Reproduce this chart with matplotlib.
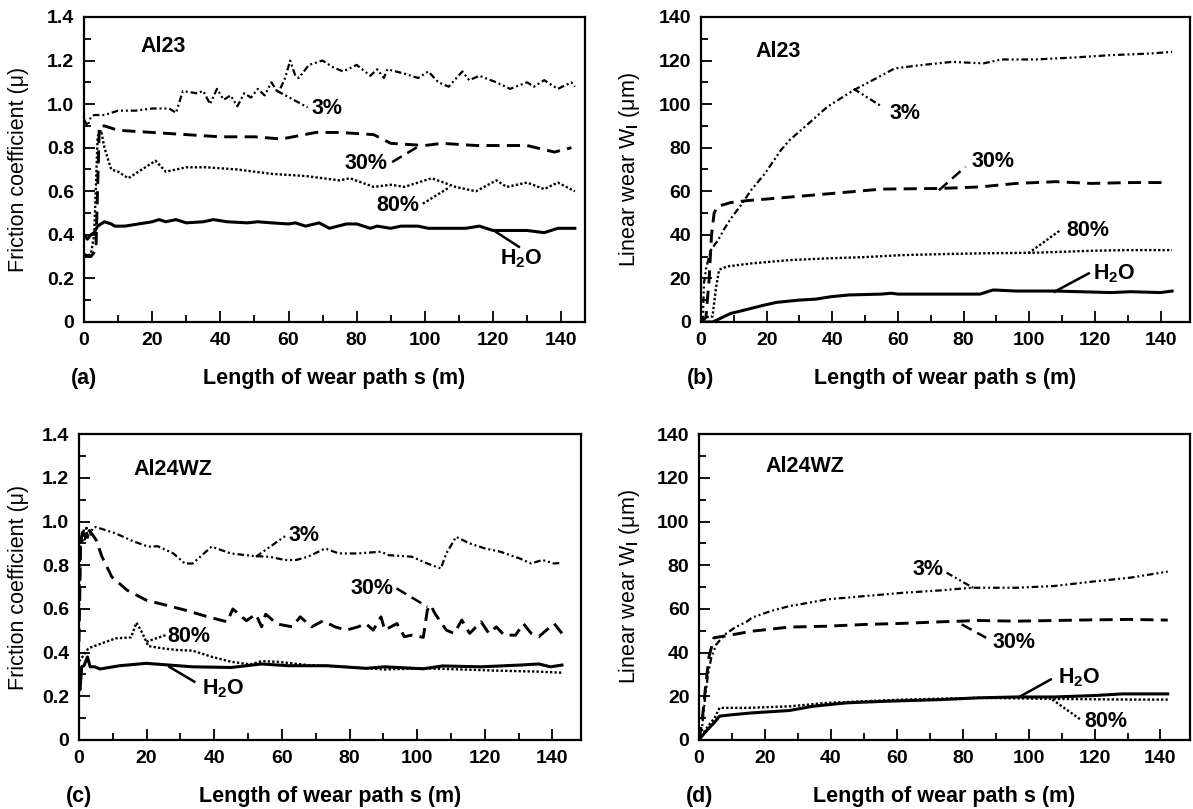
import matplotlib
matplotlib.use("Agg")
import matplotlib.pyplot as plt
from matplotlib.ticker import MultipleLocator

plt.rcParams['font.family'] = ['Liberation Sans', 'DejaVu Sans']
plt.rcParams['font.weight'] = 'bold'
plt.rcParams['mathtext.fontset'] = 'custom'
plt.rcParams['mathtext.rm'] = 'Liberation Sans:bold'
plt.rcParams['mathtext.it'] = 'Liberation Sans:bold:italic'
plt.rcParams['mathtext.bf'] = 'Liberation Sans:bold'

# ---------------- data: panel (a) Al23 friction ----------------
a_h2o_x = [0, 1, 2, 3, 4, 6, 8, 9, 12, 16, 20, 22, 24, 27, 30, 35, 38, 42, 48, 51, 55, 60, 62, 65, 69, 72, 77, 80,
           84, 86, 90, 93, 98, 101, 105, 112, 116, 120, 126, 130, 135, 139, 144]
a_h2o_y = [0.40, 0.38, 0.40, 0.41, 0.44, 0.46, 0.45, 0.44, 0.44, 0.45, 0.46, 0.47, 0.46, 0.47, 0.455, 0.46, 0.47,
           0.46, 0.455, 0.46, 0.455, 0.45, 0.455, 0.44, 0.455, 0.43, 0.45, 0.45, 0.43, 0.44, 0.43, 0.44, 0.44, 0.43,
           0.43, 0.43, 0.44, 0.42, 0.42, 0.42, 0.41, 0.43, 0.43]
a_3_x = [0, 1, 2, 3, 4, 6, 8, 10, 15, 20, 25, 27, 29, 33, 35, 37, 39, 41, 43, 45, 47, 49, 51, 53, 55, 57, 59, 60.5,
         62, 63, 66, 70, 73, 76, 80, 84, 86, 88, 89, 94, 98, 101, 104, 107, 111, 113, 116, 121, 125, 130, 132, 135,
         139, 143, 144]
a_3_y = [0.93, 0.90, 0.94, 0.95, 0.95, 0.95, 0.96, 0.97, 0.97, 0.98, 0.98, 0.96, 1.06, 1.05, 1.06, 1.00, 1.07, 1.02,
         1.04, 0.99, 1.05, 1.03, 1.07, 1.04, 1.10, 1.05, 1.12, 1.20, 1.13, 1.12, 1.18, 1.20, 1.17, 1.15, 1.18, 1.13,
         1.16, 1.12, 1.16, 1.14, 1.12, 1.15, 1.10, 1.08, 1.15, 1.11, 1.13, 1.10, 1.07, 1.10, 1.08, 1.11, 1.07, 1.10,
         1.08]
a_30_x = [0, 2, 3.5, 4.5, 6, 10, 20, 30, 40, 50, 58, 68, 75, 85, 90, 100, 105, 115, 125, 130, 138, 143]
a_30_y = [0.31, 0.30, 0.33, 0.90, 0.90, 0.88, 0.87, 0.86, 0.85, 0.85, 0.84, 0.87, 0.87, 0.86, 0.82, 0.81, 0.82,
          0.81, 0.81, 0.81, 0.78, 0.80]
a_80_x = [0, 2, 3, 4, 5, 6, 8, 10, 13, 17, 21, 24, 30, 36, 45, 55, 65, 75, 78, 85, 90, 94, 100, 102, 109, 115, 121,
          124, 130, 135, 139, 144]
a_80_y = [0.30, 0.31, 0.40, 0.85, 0.88, 0.80, 0.70, 0.69, 0.66, 0.70, 0.74, 0.69, 0.71, 0.71, 0.70, 0.68, 0.67,
          0.65, 0.66, 0.62, 0.63, 0.62, 0.65, 0.66, 0.62, 0.60, 0.65, 0.62, 0.64, 0.61, 0.64, 0.60]

# ---------------- data: panel (b) Al23 linear wear ----------------
b_3_x = [0, 0.6, 0.9, 1.6, 3, 5.2, 7.2, 9.2, 12.2, 15.3, 19.4, 24.4, 27, 32.7, 38.5, 46.5, 52.3, 59, 67, 76.5, 86,
         91.5, 102, 113.5, 125, 136.5, 143.5]
b_3_y = [0, 2.4, 17.8, 25, 33, 37.6, 43, 47.7, 53.7, 60.6, 68, 79, 83.5, 91, 98.8, 106.4, 111, 116.4, 117.9, 119.4,
         118.7, 120.5, 120.5, 121.4, 122.5, 123.2, 124]
b_30_x = [0, 1.5, 2.5, 3.2, 4, 5, 9, 14, 24.5, 40, 55, 73, 85, 96, 108, 119, 131, 141]
b_30_y = [0, 2, 20, 40, 50, 53, 54.8, 55.7, 57, 59, 61, 61.3, 62, 63.6, 64.4, 63.6, 64, 64]
b_80_x = [0, 0.3, 3.5, 4.5, 5.5, 8, 15.4, 27, 38.5, 50, 61.5, 75, 85, 102, 119, 130, 143.5]
b_80_y = [0, 2, 2.5, 15, 24, 25.5, 26.9, 28.4, 29.2, 29.8, 30.7, 31.2, 31.5, 31.8, 32.7, 33, 33]
b_h2o_x = [0, 3.5, 5, 7, 9.2, 12, 19.4, 23, 29.6, 35, 39.6, 45, 55, 58, 60, 85, 89, 96, 108, 125, 131, 140, 143.5]
b_h2o_y = [0, 0, 1, 2.5, 4, 5, 7.8, 9, 10, 10.5, 11.6, 12.4, 12.8, 13.2, 12.8, 12.8, 14.7, 14.2, 14.2, 13.5, 13.9,
           13.5, 14.2]

# ---------------- data: panel (c) Al24WZ friction ----------------
c_3_x = [0, 0.3, 0.6, 1, 1.4, 1.8, 2.2, 2.6, 3, 3.5, 4, 5, 10.8, 16, 20.5, 23.3, 27.9, 31.3, 33.6, 39.2, 44.9, 51.8,
         56.3, 60.9, 64.2, 67.7, 72.8, 76.8, 82.5, 89.3, 91.6, 98.4, 103, 107, 108.6, 111.5, 115.5, 120, 124.6, 130.3,
         133.7, 137, 140.5, 142.8]
c_3_y = [0.55, 0.85, 0.93, 0.90, 0.96, 0.91, 0.98, 0.92, 0.97, 0.94, 0.97, 0.975, 0.946, 0.91, 0.885, 0.887, 0.854,
         0.808, 0.808, 0.885, 0.854, 0.842, 0.839, 0.824, 0.824, 0.839, 0.877, 0.854, 0.854, 0.862, 0.846, 0.839,
         0.808, 0.785, 0.854, 0.93, 0.90, 0.877, 0.862, 0.831, 0.808, 0.824, 0.808, 0.811]
c_30_x = [0, 0.5, 1, 2, 3, 4, 5.1, 6.8, 9.7, 14.2, 19.9, 24.5, 31.3, 38.1, 43.8, 45.5, 49.5, 52.3, 54, 55.2, 58.6,
          63.1, 65.4, 68.8, 72.2, 75.7, 79.1, 82.5, 84.8, 87, 89.3, 90.4, 94, 96.2, 98.4, 101.8, 103, 104, 105.2,
          108.6, 110.9, 113.2, 115.5, 118.9, 121.2, 123.4, 125.7, 129.1, 131.4, 133.7, 136, 138.2, 140.5, 142.8]
c_30_y = [0.45, 0.90, 0.95, 0.93, 0.96, 0.94, 0.915, 0.839, 0.747, 0.686, 0.64, 0.622, 0.595, 0.564, 0.541, 0.60,
          0.546, 0.576, 0.518, 0.576, 0.531, 0.518, 0.564, 0.518, 0.546, 0.518, 0.503, 0.518, 0.533, 0.503, 0.564,
          0.503, 0.533, 0.473, 0.48, 0.47, 0.595, 0.618, 0.58, 0.503, 0.488, 0.549, 0.488, 0.541, 0.488, 0.518,
          0.48, 0.48, 0.533, 0.488, 0.473, 0.503, 0.533, 0.488]
c_80_x = [0, 1, 2.8, 6.3, 10.8, 15.4, 17, 18.8, 20.5, 24.5, 29, 33.6, 39.2, 45, 50.6, 54, 58.6, 67.7, 79, 90.4,
          101.8, 113, 124.6, 136, 142.8]
c_80_y = [0.36, 0.38, 0.42, 0.44, 0.465, 0.47, 0.537, 0.488, 0.43, 0.42, 0.412, 0.409, 0.381, 0.358, 0.346, 0.361,
          0.358, 0.343, 0.335, 0.323, 0.328, 0.323, 0.317, 0.313, 0.308]
c_h2o_x = [0, 0.3, 0.8, 1.5, 2.5, 3.3, 4.7, 6.2, 12, 19.9, 26.7, 33.6, 45, 54, 62, 73.4, 84.8, 90.4, 101.8, 107.5,
           118.9, 130.3, 136, 139.4, 142.8]
c_h2o_y = [0.25, 0.23, 0.335, 0.34, 0.38, 0.335, 0.335, 0.325, 0.34, 0.351, 0.343, 0.335, 0.332, 0.348, 0.34, 0.34,
           0.328, 0.335, 0.326, 0.339, 0.335, 0.343, 0.348, 0.335, 0.343]

# ---------------- data: panel (d) Al24WZ linear wear ----------------
d_3_x = [0, 0.7, 1.7, 2.7, 3.7, 5.2, 7.8, 10.8, 14.8, 16, 21.7, 27.4, 33.2, 38.9, 50.4, 61.9, 73.4, 82.5, 96.3,
         107.8, 119.3, 130.8, 142.2]
d_3_y = [0, 2.4, 17.8, 30, 37.6, 43.7, 48.3, 51.4, 54.5, 56, 59, 61.3, 62.8, 64.4, 65.9, 67.4, 68.5, 69.7, 69.7,
         70.5, 72.5, 74.3, 77.1]
d_30_x = [0, 1, 2, 3, 4.5, 7.9, 16, 27.4, 38.9, 50.4, 61.9, 73.4, 84.8, 96.3, 107.8, 119.3, 130.8, 142.2]
d_30_y = [0, 10, 25, 38, 46.8, 47.6, 49.8, 51.7, 52.1, 52.9, 53.4, 54.1, 54.7, 54.4, 54.7, 55, 55.2, 54.9]
d_80_x = [0, 0.2, 2.7, 4.7, 6.2, 14.8, 27.4, 38.9, 61.9, 84.8, 107.8, 130.8, 142.2]
d_80_y = [0, 0.9, 6.3, 10.1, 14.7, 14.7, 15.4, 17, 18.5, 19.3, 18.8, 18.5, 18.5]
d_h2o_x = [0, 0.2, 2.7, 4.7, 6.2, 9.6, 16, 27.4, 34.3, 44.7, 56.1, 73.4, 84.8, 96.3, 107.8, 119.3, 128.5, 142.2]
d_h2o_y = [0, 0.6, 5, 8.1, 10.9, 11.5, 12.4, 13.5, 15.4, 17, 17.7, 18.5, 19.3, 19.7, 19.7, 20.3, 21.1, 21.1]

# tick labels
mu_ticks = [0, 0.2, 0.4, 0.6, 0.8, 1.0, 1.2, 1.4]
mu_ticklabels = ['0', '0.2', '0.4', '0.6', '0.8', '1.0', '1.2', '1.4']
w_ticks = [0, 20, 40, 60, 80, 100, 120, 140]
x_ticks = [0, 20, 40, 60, 80, 100, 120, 140]

# ---------------- styles ----------------
ST = {
    '3': dict(color='black', lw=1.6, dashes=(3.0, 1.3, 0.9, 1.3, 0.9, 1.3)),
    '30': dict(color='black', lw=2.1, dashes=(4.5, 2.5)),
    '80': dict(color='black', lw=1.7, dashes=(1.0, 0.9)),
    'h2o': dict(color='black', lw=2.2, linestyle='-'),
}

TICK_FS = 14
LAB_FS = 15.5
ANN_FS = 15.5

fig = plt.figure(figsize=(11.93, 8.09), dpi=100)
axa = fig.add_axes([0.0704, 0.602, 0.420, 0.377])
axb = fig.add_axes([0.5876, 0.602, 0.410, 0.377])
axc = fig.add_axes([0.0662, 0.0853, 0.421, 0.378])
axd = fig.add_axes([0.586, 0.0853, 0.4116, 0.378])


def style_axes(ax, friction, xmax, letter, ylabel, ylab_x):
    ax.set_xlim(0, xmax)
    ax.set_xticks(x_ticks)
    ax.set_xticklabels([str(v) for v in x_ticks])
    ax.xaxis.set_minor_locator(MultipleLocator(10))
    if friction:
        ax.set_ylim(0, 1.4)
        ax.set_yticks(mu_ticks)
        ax.set_yticklabels(mu_ticklabels)
        ax.yaxis.set_minor_locator(MultipleLocator(0.1))
    else:
        ax.set_ylim(0, 140)
        ax.set_yticks(w_ticks)
        ax.set_yticklabels([str(v) for v in w_ticks])
        ax.yaxis.set_minor_locator(MultipleLocator(10))
    ax.tick_params(which='both', direction='in', top=False, right=False, width=1.3,
                   labelsize=TICK_FS)
    ax.tick_params(which='major', length=8, pad=7)
    ax.tick_params(which='minor', length=5)
    for s in ax.spines.values():
        s.set_linewidth(1.6)
    ax.set_ylabel(ylabel, fontsize=LAB_FS)
    ax.yaxis.set_label_coords(ylab_x, 0.5)
    ax.text(0.5, -0.185, 'Length of wear path s (m)', transform=ax.transAxes,
            ha='center', va='center', fontsize=LAB_FS)
    ax.text(0.0, -0.185, letter, transform=ax.transAxes, ha='center', va='center',
            fontsize=LAB_FS)


def series(ax, x, y, key):
    ax.plot(x, y, **ST[key])


def leader(ax, p0, p1, key):
    st = dict(ST[key])
    st['lw'] = min(st['lw'], 1.8)
    ax.plot([p0[0], p1[0]], [p0[1], p1[1]], **st)


# panel (a)
style_axes(axa, True, 147, '(a)', 'Friction coefficient (μ)', -0.11)
series(axa, a_3_x, a_3_y, '3')
series(axa, a_30_x, a_30_y, '30')
series(axa, a_80_x, a_80_y, '80')
series(axa, a_h2o_x, a_h2o_y, 'h2o')
axa.text(16.5, 1.263, 'Al23', fontsize=ANN_FS, va='center')
axa.text(66.7, 0.978, '3%', fontsize=ANN_FS, va='center')
leader(axa, (56.6, 1.061), (65.6, 0.985), '3')
axa.text(76.3, 0.726, '30%', fontsize=ANN_FS, va='center')
leader(axa, (90.4, 0.734), (97.7, 0.802), '30')
axa.text(85.9, 0.535, '80%', fontsize=ANN_FS, va='center')
leader(axa, (99.4, 0.543), (107.3, 0.619), '80')
axa.text(122, 0.291, 'H$_2$O', fontsize=ANN_FS, va='center')
leader(axa, (120.9, 0.413), (127.6, 0.345), 'h2o')

# panel (b)
style_axes(axb, False, 149, '(b)', r'Linear wear W$_\mathrm{l}$ (μm)', -0.12)
series(axb, b_3_x, b_3_y, '3')
series(axb, b_30_x, b_30_y, '30')
series(axb, b_80_x, b_80_y, '80')
series(axb, b_h2o_x, b_h2o_y, 'h2o')
axb.text(16.5, 124, 'Al23', fontsize=ANN_FS, va='center')
axb.text(57.5, 95.7, '3%', fontsize=ANN_FS, va='center')
leader(axb, (46.5, 107), (55.2, 98.8), '3')
axb.text(82.3, 73.5, '30%', fontsize=ANN_FS, va='center')
leader(axb, (72.5, 60.5), (80.6, 71.3), '30')
axb.text(111.2, 42.2, '80%', fontsize=ANN_FS, va='center')
leader(axb, (99.7, 31.5), (109.5, 42.2), '80')
axb.text(119.3, 22.3, 'H$_2$O', fontsize=ANN_FS, va='center')
leader(axb, (107.7, 13.9), (118.1, 22.3), 'h2o')

# panel (c)
style_axes(axc, True, 148.5, '(c)', 'Friction coefficient (μ)', -0.10)
series(axc, c_3_x, c_3_y, '3')
series(axc, c_30_x, c_30_y, '30')
series(axc, c_80_x, c_80_y, '80')
series(axc, c_h2o_x, c_h2o_y, 'h2o')
axc.text(16, 1.24, 'Al24WZ', fontsize=ANN_FS, va='center')
axc.text(62, 0.938, '3%', fontsize=ANN_FS, va='center')
leader(axc, (52.3, 0.839), (61.4, 0.938), '3')
axc.text(80.2, 0.694, '30%', fontsize=ANN_FS, va='center')
leader(axc, (93.9, 0.694), (103, 0.61), '30')
axc.text(26.2, 0.473, '80%', fontsize=ANN_FS, va='center')
leader(axc, (19.9, 0.45), (25.6, 0.48), '80')
axc.text(36.4, 0.236, 'H$_2$O', fontsize=ANN_FS, va='center')
leader(axc, (26.7, 0.335), (34.1, 0.267), 'h2o')

# panel (d)
style_axes(axd, False, 149, '(d)', r'Linear wear W$_\mathrm{l}$ (μm)', -0.116)
series(axd, d_3_x, d_3_y, '3')
series(axd, d_30_x, d_30_y, '30')
series(axd, d_80_x, d_80_y, '80')
series(axd, d_h2o_x, d_h2o_y, 'h2o')
axd.text(20, 125, 'Al24WZ', fontsize=ANN_FS, va='center')
axd.text(64.8, 78.1, '3%', fontsize=ANN_FS, va='center')
leader(axd, (75.1, 76.6), (83.1, 69.7), '3')
axd.text(88.9, 44.5, '30%', fontsize=ANN_FS, va='center')
leader(axd, (79.7, 52.9), (87.1, 46.8), '30')
axd.text(109, 28.4, 'H$_2$O', fontsize=ANN_FS, va='center')
leader(axd, (97.5, 20), (106.7, 27.7), 'h2o')
axd.text(117, 8.6, '80%', fontsize=ANN_FS, va='center')
leader(axd, (107.2, 18.5), (115.8, 9.3), '80')

fig.savefig('out.png', dpi=100)
